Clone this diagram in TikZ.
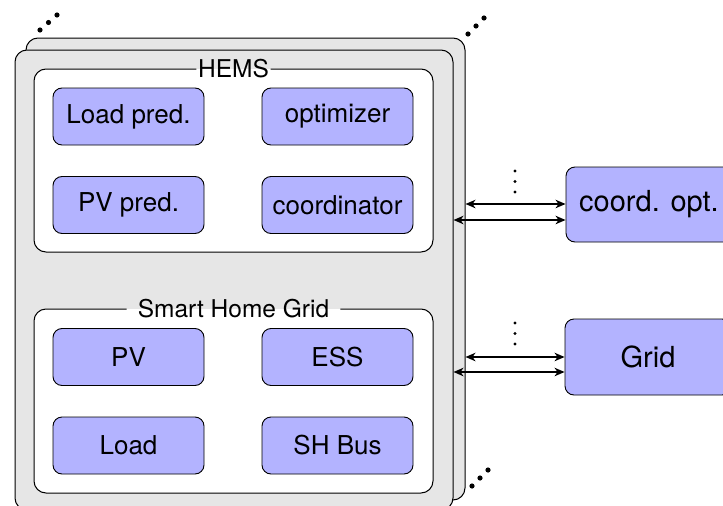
\documentclass[tikz,border=0pt]{standalone}
\usepackage{fontspec}
\setmainfont{TeX Gyre Heros}
\usetikzlibrary{arrows.meta}
\definecolor{framegray}{RGB}{230,230,230}
\definecolor{unitblue}{RGB}{179,179,255}
\begin{document}
\begin{tikzpicture}[x=1pt,y=1pt,
  frame/.style={draw, line width=1pt, fill=framegray, rounded corners=12pt, inner sep=0pt},
  unit/.style={draw, line width=0.9pt, fill=unitblue, rounded corners=9pt,
    minimum width=151pt, minimum height=57pt, inner sep=0pt,
    font=\fontsize{26}{30}\selectfont},
  ext/.style={unit, minimum width=166pt, minimum height=75pt,
    font=\fontsize{29}{33}\selectfont},
  grouptitle/.style={inner ysep=0pt, font=\fontsize{24.5}{28}\selectfont},
  groupline/.style={line width=1pt, rounded corners=12pt},
  link/.style={line width=1.4pt,
    {Stealth[length=10pt,width=8.5pt,inset=3pt]}-{Stealth[length=10pt,width=8.5pt,inset=3pt]}},
  dot/.style={fill=black}]
\useasboundingbox (0,0) rectangle (723,-506);
\clip (0,0) rectangle (723,-506);

% stacked home frames
\node[frame, minimum width=439pt, minimum height=462pt] (back) at (245.5,-269) {};
\node[frame, minimum width=438pt, minimum height=460pt] (front) at (234,-280) {};

% HEMS group
\fill[white, rounded corners=12pt] (34,-69) rectangle (433,-252);
\node[grouptitle, inner xsep=1.5pt] (hems) at (233.5,-69) {HEMS};
\draw[groupline] (hems.east) -- (433,-69) -- (433,-252) -- (34,-252) -- (34,-69) -- (hems.west);

% Smart Home Grid group
\fill[white, rounded corners=12pt] (34,-309) rectangle (433,-493);
\node[grouptitle, inner xsep=11pt] (shg) at (233.5,-309) {Smart Home Grid};
\draw[groupline] (shg.east) -- (433,-309) -- (433,-493) -- (34,-493) -- (34,-309) -- (shg.west);

% units
\node[unit] (loadpred) at (128.5,-116.5) {Load pred.};
\node[unit] (optim) at (337.5,-116.5) {optimizer};
\node[unit] (pvpred) at (128.5,-205) {PV pred.};
\node[unit] (coordin) at (337.5,-205) {coordinator};
\node[unit] (pv) at (128.5,-357) {PV};
\node[unit] (ess) at (337.5,-357) {ESS};
\node[unit] (load) at (128.5,-445.5) {Load};
\node[unit] (shbus) at (337.5,-445.5) {SH Bus};

% external partners
\node[ext] (copt) at (649,-204.5) {coord. opt.};
\node[ext, minimum height=76pt] (grid) at (648,-357) {Grid};

% links
\coordinate (c1) at (0,-204);
\coordinate (c2) at (0,-220);
\coordinate (g1) at (0,-357);
\coordinate (g2) at (0,-372);
\draw[link] (back.east |- c1) -- (copt.west |- c1);
\draw[link] (front.east |- c2) -- (copt.west |- c2);
\draw[link] (back.east |- g1) -- (grid.west |- g1);
\draw[link] (front.east |- g2) -- (grid.west |- g2);

% vertical ellipses above the links
\foreach \y in {-171,-181.5,-192} \fill[dot] (515,\y) circle (1.7);
\foreach \y in {-323,-333.5,-344} \fill[dot] (515,\y) circle (1.7);

% diagonal ellipses at the frame corners
\foreach \p in {(40,-30),(48.5,-22.5),(57,-15)} \fill[dot] \p circle (2.6);
\foreach \p in {(468,-34),(476,-26),(484,-18)} \fill[dot] \p circle (2.6);
\foreach \p in {(472,-486),(480,-478),(488,-470)} \fill[dot] \p circle (2.6);
\end{tikzpicture}
\end{document}
